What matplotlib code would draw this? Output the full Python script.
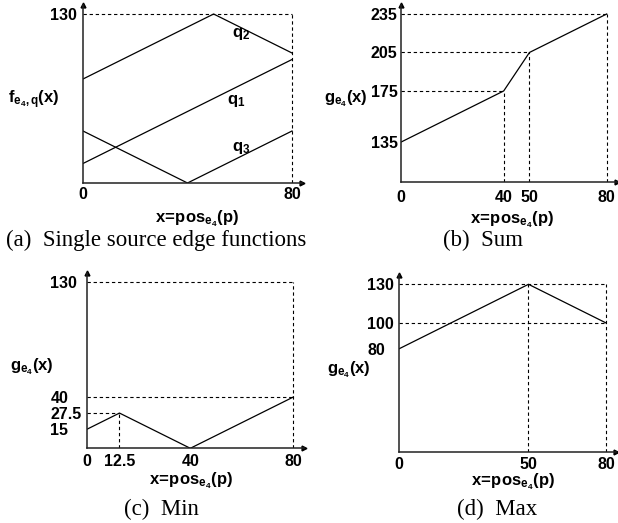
import matplotlib
matplotlib.use("Agg")
import matplotlib.pyplot as plt

plt.rcParams['font.family'] = 'Liberation Sans'
plt.rcParams['font.weight'] = 'bold'
plt.rcParams['mathtext.fontset'] = 'custom'
plt.rcParams['mathtext.rm'] = 'Liberation Sans:bold'
plt.rcParams['mathtext.it'] = 'Liberation Sans:bold'
plt.rcParams['mathtext.bf'] = 'Liberation Sans:bold'
plt.rcParams['mathtext.default'] = 'rm'

W, H = 618, 523

# (a) single source edge functions
q1_x = [0, 80]
q1_y = [15, 95]
q2_x = [0, 50, 80]
q2_y = [80, 130, 100]
q3_x = [0, 40, 80]
q3_y = [40, 0, 40]
# (b) sum
sum_x = [0, 40, 50, 80]
sum_y = [135, 175, 205, 235]
# (c) min
min_x = [0, 12.5, 40, 80]
min_y = [15, 27.5, 0, 40]
# (d) max
max_x = [0, 50, 80]
max_y = [80, 130, 100]

a_xticks, a_yticks = [0, 80], [130]
b_xticks, b_yticks = [0, 40, 50, 80], [135, 175, 205, 235]
c_xticks, c_yticks = [0, 12.5, 40, 80], [15, 27.5, 40, 130]
d_xticks, d_yticks = [0, 50, 80], [80, 100, 130]

# dashed guides: (y, x end) horizontal, (x, y end) vertical
a_hguide, a_vguide = [(130, 80)], [(80, 130)]
b_hguide = [(175, 40), (205, 50), (235, 80)]
b_vguide = [(40, 175), (50, 205), (80, 235)]
c_hguide = [(130, 80), (40, 80), (27.5, 12.5)]
c_vguide = [(80, 130), (12.5, 27.5)]
d_hguide = [(130, 80), (100, 80)]
d_vguide = [(50, 130), (80, 130)]

FS = 11.5
LFS = 12

fig = plt.figure(figsize=(W / 100, H / 100), dpi=100)


def fmt(v):
    return str(int(v)) if float(v).is_integer() else str(v)


def make_axes(x0, x80, ybot, ymin, ytop_val, ytop_px, ylim, xticks, yticks,
              ypad, xpad):
    scale_x = (x80 - x0) / 80
    scale_y = (ybot - ytop_px) / (ytop_val - ymin)
    xr = x0 + 84 * scale_x
    ytop = ybot - (ylim[1] - ylim[0]) * scale_y
    ax = fig.add_axes([x0 / W, (H - ybot) / H, (xr - x0) / W, (ybot - ytop) / H])
    ax.set_xlim(0, 84)
    ax.set_ylim(*ylim)
    for s in ['top', 'right']:
        ax.spines[s].set_visible(False)
    for s in ['left', 'bottom']:
        ax.spines[s].set_linewidth(1.1)
        ax.spines[s].set_color('#222222')
    ax.plot(1, 0, '>k', ms=3.5, transform=ax.transAxes, clip_on=False)
    ax.plot(0, 1, '^k', ms=3.5, transform=ax.transAxes, clip_on=False)
    ax.set_xticks(xticks)
    ax.set_xticklabels([fmt(v) for v in xticks])
    ax.set_yticks(yticks)
    ax.set_yticklabels([fmt(v) for v in yticks], ha='left')
    ax.tick_params(axis='both', length=0, labelsize=FS)
    ax.tick_params(axis='y', pad=ypad)
    ax.tick_params(axis='x', pad=xpad)
    ax.patch.set_visible(False)
    return ax


def guides(ax, hg, vg):
    y0 = ax.get_ylim()[0]
    for y, xe in hg:
        ax.plot([0, xe], [y, y], color='black', lw=0.8, ls=(0, (3, 2.5)))
    for x, ye in vg:
        ax.plot([x, x], [y0, ye], color='black', lw=0.8, ls=(0, (3, 2.5)))


def fig_text(x, y, s, **kw):
    fig.text(x / W, 1 - y / H, s, **kw)


# (a)
ax = make_axes(83, 292, 183, 0, 130, 14, (0, 137), a_xticks, a_yticks, 23.8, 3.0)
guides(ax, a_hguide, a_vguide)
ax.plot(q1_x, q1_y, color='black', lw=0.9)
ax.plot(q2_x, q2_y, color='black', lw=0.9)
ax.plot(q3_x, q3_y, color='black', lw=0.9)
ax.text(57, 115, r'$q_2$', fontsize=LFS, ha='left', va='center')
ax.text(55, 63, r'$q_1$', fontsize=LFS, ha='left', va='center')
ax.text(57, 27, r'$q_3$', fontsize=LFS, ha='left', va='center')

# (b)
ax = make_axes(400.7, 606.7, 182, 104, 235, 14, (104, 242), b_xticks, b_yticks, 21.4, 5.7)
guides(ax, b_hguide, b_vguide)
ax.plot(sum_x, sum_y, color='black', lw=0.9)

# (c)
ax = make_axes(87.3, 293.3, 448.3, 0, 130, 281.7, (0, 137), c_xticks, c_yticks, 26.6, 4.4)
guides(ax, c_hguide, c_vguide)
ax.plot(min_x, min_y, color='black', lw=0.9)

# (d)
ax = make_axes(399.3, 606, 451.7, 0, 130, 284.3, (0, 137), d_xticks, d_yticks, 23, 3.7)
guides(ax, d_hguide, d_vguide)
ax.plot(max_x, max_y, color='black', lw=0.9)

# y labels
fig_text(8, 100, r'$f_{e_4,q}(x)$', fontsize=LFS, ha='left', va='center')
fig_text(324, 99, r'$g_{e_4}(x)$', fontsize=LFS, ha='left', va='center')
fig_text(10, 367, r'$g_{e_4}(x)$', fontsize=LFS, ha='left', va='center')
fig_text(327, 370, r'$g_{e_4}(x)$', fontsize=LFS, ha='left', va='center')

# x labels
xl = r'$x\!=\!pos_{e_4}(p)$'
fig_text(197, 222, xl, fontsize=LFS, ha='center', va='baseline')
fig_text(512, 223, xl, fontsize=LFS, ha='center', va='baseline')
fig_text(191, 484, xl, fontsize=LFS, ha='center', va='baseline')
fig_text(513, 485, xl, fontsize=LFS, ha='center', va='baseline')

# captions
cap = dict(fontsize=16.5, family='Liberation Serif', weight='normal',
           ha='center', va='center')
fig_text(156, 240, '(a)  Single source edge functions', **cap)
fig_text(483, 240, '(b)  Sum', **cap)
fig_text(161, 509, '(c)  Min', **cap)
fig_text(497, 509, '(d)  Max', **cap)

fig.savefig('out.png', dpi=100)
